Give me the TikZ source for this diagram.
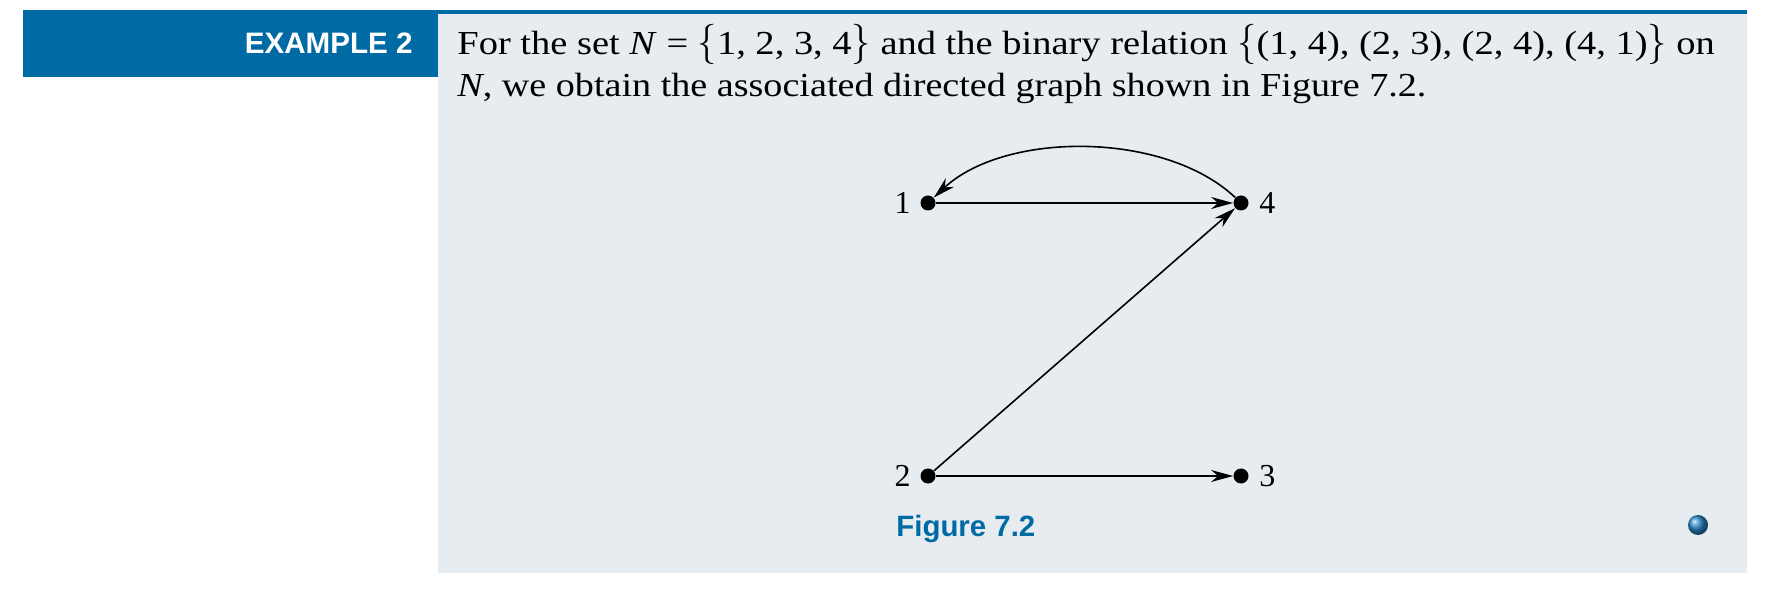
\documentclass[tikz,border=0pt]{standalone}
\usepackage{mathptmx}
\usepackage[no-math]{fontspec}
\setmainfont{Liberation Serif}
\newfontfamily\headsans{Liberation Sans}
\usetikzlibrary{arrows.meta}
\definecolor{pblue}{RGB}{0,106,164}
\definecolor{pgray}{RGB}{231,236,240}
\definecolor{ballblue}{RGB}{40,135,200}
\newcommand{\lbr}{\scalebox{1}[1.2]{\(\{\)}}
\newcommand{\rbr}{\scalebox{1}[1.2]{\(\}\)}}
\tikzset{
  dot/.style={circle,fill=black,inner sep=0pt,minimum size=7.5pt},
  arr/.style={line width=0.8pt,-{Stealth[length=11pt,width=6pt,inset=3.5pt]}},
  lab/.style={font=\fontsize{16pt}{18pt}\selectfont,inner sep=1pt},
  bodytext/.style={font=\fontsize{16.8pt}{22pt}\selectfont,inner sep=0pt,anchor=base west},
  headtext/.style={font=\headsans\bfseries\fontsize{14.8pt}{17pt}\selectfont,text=white,inner sep=0pt,anchor=base east},
  figtext/.style={font=\headsans\bfseries\fontsize{14.7pt}{17pt}\selectfont,text=pblue,inner sep=0pt,anchor=base west}
}
\begin{document}
\begin{tikzpicture}[x=0.5pt,y=-0.5pt]
\useasboundingbox (0,0) rectangle (1770,592);
\fill[pgray] (438,10) rectangle (1747,573);
\fill[pblue] (438,10) rectangle (1747,14);
\fill[pblue] (23,10) rectangle (438,77);
\node[headtext] (ex) at (413,54) {EXAMPLE 2};
\node[bodytext] (t1) at (457,55) {\scalebox{1.145}[1]{For the set \textit{N} = \lbr1, 2, 3, 4\rbr\ and the binary relation \lbr(1, 4), (2, 3), (2, 4), (4, 1)\rbr\ on}};
\node[bodytext] (t2) at (457,97) {\scalebox{1.135}[1]{\textit{N}, we obtain the associated directed graph shown in Figure 7.2.}};
\node[dot,label={[lab,label distance=3.5pt]left:1}] (n1) at (928,203) {};
\node[dot,label={[lab,label distance=4pt]right:4}] (n4) at (1241,203) {};
\node[dot,label={[lab,label distance=3.5pt]left:2}] (n2) at (928,476) {};
\node[dot,label={[lab,label distance=4pt]right:3}] (n3) at (1241,476) {};
\draw[arr] (n1) -- (n4);
\draw[arr] (n2) -- (n3);
\draw[arr] (n2) -- (n4);
\draw[arr] (n4) .. controls (1165,131) and (1005,131) .. (n1);
\node[figtext] (fig) at (896,536) {Figure 7.2};
\shade[ball color=ballblue] (1698,525) circle (5pt);
\end{tikzpicture}
\end{document}
